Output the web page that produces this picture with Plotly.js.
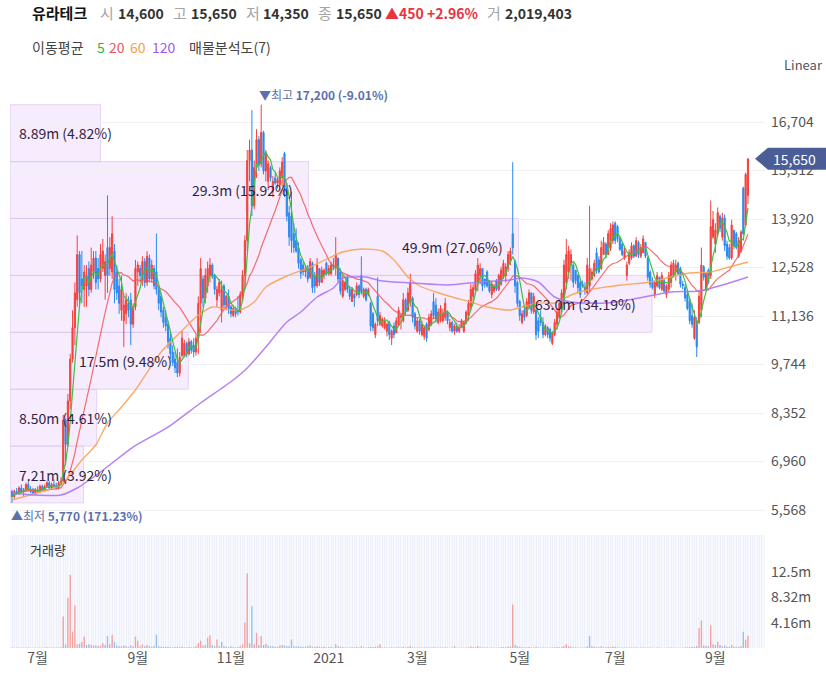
<!DOCTYPE html>
<html><head><meta charset="utf-8">
<script src="https://cdn.plot.ly/plotly-3.0.1.min.js"></script>
<style>html,body{margin:0;padding:0;background:#fff;}#chart{width:826px;height:678px;}</style>
</head><body><div id="chart"></div>
<script>
// ---------------- data ----------------
const stockName = '유라테크';
const startDate = '2020-06-16';
const holidays = ['2020-08-17','2020-09-30','2020-10-01','2020-10-02','2020-10-09','2020-12-25','2020-12-31',
  '2021-01-01','2021-02-11','2021-02-12','2021-03-01','2021-05-05','2021-05-19','2021-08-16','2021-09-20','2021-09-21','2021-09-22'];

const open = [
6100,5950,6100,6050,6200,6100,6150,6300,6150,6100,
6050,6150,6100,6250,6150,6250,6350,6200,6300,6250,
6200,6350,6400,8150,7450,8700,9900,10800,11600,12900,
12200,11900,12000,12500,11900,12400,12800,12500,12200,12500,
12300,13100,12500,12400,13000,12400,12000,11300,11000,11200,
11500,11600,10900,11400,12400,12500,12200,12700,12100,12800,
12200,12500,12400,11900,11700,11300,11100,10900,10500,10100,
9900,9800,9500,10000,10000,10350,10050,10400,10300,10100,
10500,11500,12200,11650,12000,12300,12600,12300,11600,11800,
11300,12000,11450,11700,11400,11150,11350,11300,11250,11700,
12300,13300,15600,15900,14300,15400,16200,15500,16400,15300,
15000,15400,14700,15100,14950,14900,15100,15800,14800,14100,
14000,13500,13300,13100,12750,12600,12400,12550,12250,12650,
12300,12000,12500,12100,12300,12650,12350,12350,12600,12550,
12800,12400,11700,11900,12250,11900,11550,11750,11750,12000,
12300,11700,11900,11750,11500,11200,10600,11700,10900,10850,
10800,10700,10950,10500,10850,10650,10900,11100,11000,11600,
11300,11550,11650,11200,10700,11000,10600,10550,10900,10750,
10900,11550,11450,10950,11000,11000,11100,11250,10800,10950,
10700,10850,10700,10800,10700,10950,11150,11400,11700,11900,
12100,12300,12500,12200,12400,12150,11750,11850,12150,11900,
12050,12250,12300,12500,12700,13500,12700,12100,11550,10950,
11300,11150,11400,11800,11250,11300,11000,11100,10950,10600,
10800,10750,10350,10600,10900,11100,11350,11600,12100,12400,
12600,12600,12450,12300,12100,12050,11950,11800,12000,12200,
12300,12950,12750,12500,12900,13200,12900,13100,13300,13800,
13700,13350,13200,12800,12300,12650,12800,13150,12850,13250,
12850,12950,13250,12800,12400,12150,11750,12000,12250,11900,
12150,11750,11900,12100,12300,12400,12650,12500,12050,11950,
11750,11550,11150,10500,11000,10950,11300,12550,11900,12450,
12300,13400,13200,13500,14000,13400,13950,13200,13100,12800,
13600,13500,12850,13000,14800,13750,14600];

const high = [
6150,6150,6200,6250,6300,6200,6350,6400,6250,6200,
6200,6250,6300,6300,6300,6400,6400,6350,6450,6350,
6400,6500,8300,8200,8900,10050,11300,12100,13450,13000,
13000,12600,12600,12700,13100,13000,13000,12800,13200,13350,
12900,14600,13400,14000,13200,12600,12200,12300,11700,11800,
11700,11800,11500,12750,12700,12600,12850,12800,13000,12900,
12750,12600,13500,12000,11800,11400,11300,11000,10700,10300,
10100,10200,10100,10700,10450,10400,10500,10450,10500,10600,
11700,12800,12300,12500,12700,12800,12650,12350,12000,12200,
12150,12050,11750,11900,11450,11450,11400,11700,11850,12450,
13450,15900,16200,17050,15600,16500,16300,17200,16450,15900,
15600,15450,15150,15250,15100,15400,15700,15850,14950,14300,
14700,13800,13650,13250,12800,12700,12600,12600,12800,12700,
12400,12800,12500,12550,12500,12700,12600,12700,12800,13400,
12800,12500,12300,12150,12300,12000,11950,11800,12100,12050,
12850,11950,11950,11950,11550,11250,10950,12250,11250,11100,
11100,10950,11000,10750,10950,11100,11400,11200,11800,11650,
11950,12350,11700,11250,11100,11050,11000,10850,10950,11200,
11300,11800,11650,11350,11450,11350,11650,11300,11050,11000,
10900,10950,10900,11050,11000,11300,11600,12050,12050,12450,
12800,12650,12500,12200,12450,12150,12150,12050,12200,12350,
12550,12750,12650,13000,13100,15550,12750,12150,11600,11300,
11400,11650,11900,11800,11800,11350,11100,11300,11100,10900,
10850,10800,10700,11050,11350,11600,11900,12750,13350,13150,
13050,12650,12450,12350,12200,12150,12100,12800,14300,12500,
12750,13100,12850,13300,13400,13250,13600,13800,13850,13850,
13750,13400,13250,13100,12700,13050,13250,13200,13400,13300,
13200,13450,13250,12850,12450,12250,12150,12400,12250,12400,
12200,12050,12400,12700,12750,12750,12700,12550,12150,12050,
11850,11650,11500,11300,11100,11850,13100,12600,12400,12500,
14450,14150,13800,14250,14050,14100,14050,13300,13200,13900,
13600,13550,13400,13600,14850,15250,15650];

const low = [
5770,5900,6000,6000,6050,5950,6100,6100,6050,6000,
6000,6050,6050,6100,6100,6200,6150,6150,6200,6150,
6150,6300,6350,6850,7400,8450,9800,10300,11400,11350,
11500,11400,11400,11700,11800,12200,11900,11900,12100,12400,
11600,11800,12300,12200,11500,11600,11200,11000,10250,10900,
11100,10300,10800,11300,12000,12100,12000,11950,12000,12100,
12100,11900,11750,11300,11100,10800,10700,10200,9900,9700,
9500,9380,9400,9950,9950,9950,10000,10050,9950,10000,
10050,10650,11400,11500,11800,12100,12200,11750,11400,11700,
10950,11350,11300,11200,11100,11100,11100,11150,11200,11600,
11900,13000,15000,14000,14200,15100,15300,15400,15200,15000,
14750,15000,14550,14900,14800,14750,14850,14550,13850,13150,
12950,12950,12950,12500,12200,12300,12250,12100,12200,11800,
11800,11950,12000,12100,12200,12300,12300,12300,12450,12300,
12100,11750,11650,11850,11800,11600,11550,11400,11700,11650,
11750,11650,11550,11700,10700,10700,10500,10850,10850,10800,
10750,10550,10450,10300,10500,10650,10850,10750,10950,11150,
11250,11400,10950,10750,10650,10600,10550,10450,10400,10700,
10850,11050,10950,10900,10950,10950,11000,10900,10700,10650,
10600,10650,10650,10800,10650,10900,11000,11300,11550,11850,
11850,12050,11850,11950,11950,11800,11650,11800,11850,11850,
12000,12200,12100,12400,12600,12900,11800,11400,11000,10900,
11000,11100,11350,11200,11200,10450,10500,10850,10500,10550,
10500,10400,10300,10550,10750,11050,11250,11500,11900,12200,
12150,11950,12050,11800,11650,11950,11750,11750,11850,12150,
12250,12350,12350,12450,12900,12800,12900,13000,13200,13200,
13250,13000,12850,12750,12150,12600,12750,12800,12850,12800,
12800,12950,12800,12150,11950,11900,11650,11950,11900,11850,
11800,11650,11800,11950,12250,12150,12300,11950,11900,11550,
11300,10900,10800,10450,9960,10900,11100,12150,11850,12050,
12200,13350,12950,13400,13550,13300,13000,12750,12750,12750,
13050,13050,12800,12950,13450,13700,14350];

const close = [
5950,6100,6050,6200,6100,6150,6300,6150,6100,6050,
6150,6100,6250,6150,6250,6350,6200,6300,6250,6200,
6350,6400,8150,7450,8700,9900,10800,11800,12900,11800,
12000,12400,12300,11900,12600,12800,12100,12200,12900,13000,
12700,12300,13100,13500,11900,11800,11500,11900,11450,11600,
11300,10900,11400,12500,12600,12300,12700,12100,12850,12200,
12600,12000,11900,11500,11250,10950,10850,10400,10050,9800,
9650,9500,9950,10500,10350,10050,10400,10150,10100,10500,
11500,12500,11650,12300,12500,12600,12300,11900,11900,12100,
11900,11450,11700,11350,11200,11350,11200,11250,11750,12300,
13300,15600,15900,14300,15400,16200,15500,16400,15300,15800,
15500,15100,15000,14950,15050,15300,15550,14700,14000,13400,
13300,13100,13000,12650,12350,12400,12500,12200,12700,11950,
12000,12600,12100,12450,12450,12350,12500,12600,12550,12900,
12200,11850,12150,12100,11900,11700,11900,11650,12000,11750,
11850,11900,11600,11900,10850,10800,10900,11000,11150,11050,
11000,10900,10600,10700,10600,11000,11300,11150,11600,11250,
11800,12100,11100,10850,11000,10700,10900,10800,10500,11100,
11200,11150,11050,11250,11350,11200,11500,11000,10950,10700,
10850,10700,10800,11000,10950,11250,11500,11900,11950,12350,
12600,12500,12000,12050,12000,11850,12050,12000,11900,12300,
12450,12650,12550,12900,13000,13100,12000,11500,11150,11200,
11100,11550,11800,11300,11700,10600,10700,10950,10600,10850,
10600,10500,10650,10950,11250,11500,11800,12600,12900,13000,
12900,12100,12150,11950,11750,12000,11850,12600,12500,12400,
12650,12450,12400,13100,13250,12900,13500,13650,13750,13300,
13350,13050,12900,13000,12600,12950,13150,12850,13300,12900,
13100,13350,12850,12250,12050,11950,12100,12300,11950,12300,
11850,12000,12300,12600,12650,12600,12350,12050,12000,11650,
11350,11000,10900,11100,10250,11700,12600,12250,12350,12100,
13700,13900,13600,14100,13650,13950,13150,12850,12800,13750,
13150,13100,13300,13550,13500,15200,15650];

// daily volume, millions of shares
const volumeM = [
0.08,0.06,0.07,0.09,0.05,0.06,0.10,0.07,0.05,0.06,0.08,0.05,0.07,0.06,0.09,0.11,0.07,0.06,0.08,0.07,0.09,0.12,
5.2,0.6,8.3,12.1,2.7,7.0,0.6,0.7,1.0,1.9,0.5,0.6,0.5,0.4,0.4,0.3,0.4,0.8,
0.5,2.0,0.6,2.2,1.0,0.4,0.3,0.3,0.4,0.3,0.2,0.4,0.3,1.9,1.2,0.3,0.6,0.3,0.5,0.3,
0.2,0.3,2.2,0.3,0.2,0.2,0.15,0.2,0.15,0.1,0.15,0.2,0.15,0.2,0.1,0.1,0.15,0.1,0.12,0.3,
0.8,1.2,0.4,0.5,1.7,2.1,0.5,0.3,1.4,0.3,1.0,0.3,0.2,0.15,0.3,0.15,0.1,0.15,0.3,0.6,
4.2,12.3,0.8,6.9,0.6,2.5,0.5,2.0,0.5,0.7,0.4,0.3,0.3,0.2,0.2,0.4,0.5,0.4,0.3,0.3,
1.4,0.3,0.2,0.3,0.2,0.15,0.2,0.3,0.4,0.2,0.15,0.3,0.2,0.15,0.2,0.1,0.15,0.2,0.1,0.6,
0.3,0.2,0.15,0.1,0.1,0.1,0.15,0.1,0.2,0.1,0.3,0.1,0.1,0.15,0.2,0.15,0.2,0.3,0.6,0.1,
0.1,0.08,0.1,0.12,0.08,0.1,0.15,0.08,0.2,0.1,0.15,0.35,0.12,0.1,0.08,0.1,0.08,0.07,0.1,0.12,
0.1,0.15,0.1,0.08,0.1,0.08,0.12,0.07,0.06,0.08,0.3,0.06,0.05,0.07,0.06,0.08,0.1,0.25,0.12,0.15,
0.35,0.12,0.1,0.08,0.07,0.06,0.08,0.07,0.06,0.1,0.12,0.15,0.12,0.2,0.25,7.2,0.5,0.3,0.2,0.12,
0.1,0.12,0.15,0.1,0.1,0.2,0.12,0.08,0.1,0.07,0.06,0.08,0.1,0.12,0.15,0.12,0.2,0.35,0.6,0.3,
0.2,0.12,0.1,0.1,0.08,0.07,0.07,0.3,2.0,0.3,0.2,0.15,0.12,0.3,0.15,0.12,0.2,0.15,0.25,0.15,
0.12,0.1,0.08,0.07,0.08,0.1,0.1,0.07,0.08,0.06,0.07,0.1,0.06,0.08,0.07,0.06,0.05,0.07,0.06,0.05,
0.06,0.05,0.07,0.08,0.06,0.05,0.06,0.05,0.07,0.08,0.1,0.12,0.15,0.2,0.35,3.3,4.5,0.4,0.3,0.3,
3.7,0.6,0.5,1.0,0.5,0.3,0.4,0.2,0.2,0.5,0.2,0.2,0.2,0.3,2.7,1.4,2.019403];

// 60- and 120-day moving averages (trading-day index, price)
const ma60Idx = [0,12,21,30,36,41,47,53,64,72,79,86,94,99,104,109,118,127,136,142,150,159,164,170,175,182,189,197,204,214,219,226,233,240,247,255,262,274,283,291,300,308,316];
const ma60Val = [5855,6085,6285,7003,7434,8065,8524,9012,10103,10648,11107,11394,11308,11337,11538,11968,12284,12513,12800,12973,13059,13001,12743,12255,11997,11825,11681,11538,11394,11308,11394,11509,11509,11739,11882,11968,12026,12112,12255,12370,12399,12542,12686];
const ma120Idx = [0,9,21,28,38,52,67,81,95,101,109,118,124,131,138,142,147,152,159,172,187,201,214,219,226,233,240,255,267,283,295,308,316];
const ma120Val = [6056,5999,5999,6199,6659,7376,7950,8639,9299,9643,10246,10964,11251,11681,11939,12226,12255,12255,12140,12083,12026,12112,12169,12226,12112,11681,11537,11509,11624,11825,11853,12083,12255];

// volume profile (매물분석도), bottom band first
const profileVolM = [7.21, 8.50, 17.5, 63.0, 49.9, 29.3, 8.89];
const profilePct  = [3.92, 4.61, 9.48, 34.19, 27.06, 15.92, 4.82];

const priceTicks = [5568, 6960, 8352, 9744, 11136, 12528, 13920, 15312, 16704];
const volTicksM = [4.16, 8.32, 12.5];
const maPeriods = [5, 20, 60, 120];

// ---------------- helpers ----------------
const FONT = '"Noto Sans CJK KR","Noto Sans",sans-serif';
const W = 826, H = 678, ML = 10, MR = 61, PW = W - ML - MR;
const SLOT = 2.329, X0PX = 12;             // px per trading day, px of first candle
const xmin = (ML - X0PX) / SLOT, xmax = (ML + PW - X0PX) / SLOT;
const PX_PER_WON = 388 / 11136;            // price scale calibration
const priceAtPy = py => 5568 + (510 - py) / PX_PER_WON;
const fmt = v => Math.round(v).toLocaleString('en-US');
const N = close.length;
const idx = close.map((_, i) => i);

function tradingDays(start, n, hol) {
  const hs = new Set(hol), out = [];
  const d = new Date(start + 'T00:00:00Z');
  while (out.length < n) {
    const wd = d.getUTCDay(), s = d.toISOString().slice(0, 10);
    if (wd !== 0 && wd !== 6 && !hs.has(s)) out.push(s);
    d.setUTCDate(d.getUTCDate() + 1);
  }
  return out;
}
const dates = tradingDays(startDate, N, holidays);
const tickIdx = [], tickTxt = [];
for (let i = 1; i < N; i++) {
  const m = +dates[i].slice(5, 7), pm = +dates[i - 1].slice(5, 7);
  if (m !== pm && m % 2 === 1) { tickIdx.push(i); tickTxt.push(m === 1 ? dates[i].slice(0, 4) : m + '월'); }
}

function sma(arr, n) {
  return arr.map((_, i) => { const s = Math.max(0, i - n + 1); let t = 0; for (let k = s; k <= i; k++) t += arr[k]; return t / (i - s + 1); });
}

const measure = (() => { const c = document.createElement('canvas').getContext('2d'); return (t, size, bold) => { c.font = (bold ? 'bold ' : '') + size + 'px "Noto Sans CJK KR"'; return c.measureText(t).width; }; })();

function label(px, py, text, o = {}) {
  return { xref: 'paper', yref: 'paper', x: (px - ML) / PW, y: 1 - py / H, xanchor: o.anchor || 'left', yanchor: 'middle',
    text, showarrow: false, font: { family: FONT, size: o.size || 14, color: o.color || '#333' } };
}

// ---------------- traces ----------------
const RED = '#f2423d', BLUE = '#2a88ee';
const traces = [];
traces.push({ type: 'candlestick', x: idx, open, high, low, close, xaxis: 'x', yaxis: 'y',
  increasing: { line: { color: RED, width: 1 }, fillcolor: RED },
  decreasing: { line: { color: BLUE, width: 1 }, fillcolor: BLUE },
  whiskerwidth: 0, hoverinfo: 'skip' });
traces.push({ type: 'scatter', mode: 'lines', x: idx, y: sma(close, maPeriods[1]), line: { color: 'rgba(245,85,85,0.85)', width: 1.2 }, hoverinfo: 'skip' });
traces.push({ type: 'scatter', mode: 'lines', x: ma60Idx, y: ma60Val, line: { color: 'rgba(248,163,88,0.9)', width: 1.4, shape: 'spline', smoothing: 0.7 }, hoverinfo: 'skip' });
traces.push({ type: 'scatter', mode: 'lines', x: ma120Idx, y: ma120Val, line: { color: 'rgba(172,118,245,0.9)', width: 1.5, shape: 'spline', smoothing: 0.7 }, hoverinfo: 'skip' });
traces.push({ type: 'scatter', mode: 'lines', x: idx, y: sma(close, maPeriods[0]), line: { color: '#3dbf42', width: 1.2 }, hoverinfo: 'skip' });
traces.push({ type: 'bar', x: idx, y: volumeM.map(v => v * 1e6), xaxis: 'x2', yaxis: 'y2', width: 0.6,
  marker: { color: close.map((c, i) => (i === 0 || c >= close[i - 1]) ? '#f4a0a0' : '#93c0f2'), line: { width: 0 } }, hoverinfo: 'skip' });

// ---------------- shapes & annotations ----------------
const shapes = [], annotations = [];
const volTop = 18.65e6;
shapes.push({ type: 'rect', xref: 'x2', yref: 'y2', x0: xmin, x1: xmax, y0: 0, y1: volTop, fillcolor: '#f7f9fe', line: { width: 0 }, layer: 'below' });

const pLow = Math.min(...low), pHigh = Math.max(...high);
const iLow = low.indexOf(pLow), iHigh = high.indexOf(pHigh);
const step = (pHigh - pLow) / profileVolM.length;
const maxV = Math.max(...profileVolM), bandMaxPx = 642;
profileVolM.forEach((v, i) => {
  const wpx = v / maxV * bandMaxPx;
  shapes.push({ type: 'rect', xref: 'x', yref: 'y', x0: xmin, x1: xmin + wpx / SLOT, y0: pLow + i * step, y1: pLow + (i + 1) * step,
    fillcolor: 'rgba(240,218,252,0.5)', line: { color: 'rgba(214,188,236,0.6)', width: 1 }, layer: 'below' });
  const t = (v >= 10 ? v.toFixed(1) : v.toFixed(2)) + 'm (' + profilePct[i].toFixed(2) + '%)';
  const tw = measure(t, 14);
  const rightPx = ML + wpx - 14;
  const a = { xref: 'paper', yref: 'y', y: pLow + (i + 0.5) * step, text: t, showarrow: false, yanchor: 'middle',
    font: { family: FONT, size: 14, color: '#2f1f45' } };
  if (rightPx - tw >= 17) { a.x = (rightPx - ML) / PW; a.xanchor = 'right'; } else { a.x = (17 - ML) / PW; a.xanchor = 'left'; }
  annotations.push(a);
});

// high / low markers
const last = N - 1, lastClose = close[last];
annotations.push({ xref: 'x', yref: 'y', x: iHigh, y: pHigh, xanchor: 'left', yanchor: 'bottom', xshift: -4, showarrow: false,
  text: '▼최고 <b>' + fmt(pHigh) + ' (' + ((lastClose - pHigh) / pHigh * 100).toFixed(2) + '%)</b>', font: { family: FONT, size: 12, color: '#5b70ad' } });
annotations.push({ xref: 'x', yref: 'y', x: iLow, y: pLow, xanchor: 'left', yanchor: 'top', xshift: -3, yshift: -2, showarrow: false,
  text: '▲최저 <b>' + fmt(pLow) + ' (' + ((lastClose - pLow) / pLow * 100).toFixed(2) + '%)</b>', font: { family: FONT, size: 12, color: '#5b70ad' } });

// last price tag (drawn over the axis labels, as in the original)
const tipX = (755 - ML) / PW, bodyX = (768 - ML) / PW, endX = (826 - ML) / PW, hh = 11 / PX_PER_WON;
shapes.push({ type: 'path', xref: 'paper', yref: 'y', layer: 'above',
  path: `M ${tipX},${lastClose} L ${bodyX},${lastClose + hh} L ${endX},${lastClose + hh} L ${endX},${lastClose - hh} L ${bodyX},${lastClose - hh} Z`,
  fillcolor: '#4b5d97', line: { width: 0 } });
annotations.push({ xref: 'paper', yref: 'y', x: (771 - ML) / PW, y: lastClose, xanchor: 'left', yanchor: 'middle', showarrow: false,
  text: fmt(lastClose), font: { family: FONT, size: 14, color: '#ffffff' } });

// header: laid out left to right with measured widths
const chg = close[last] - close[last - 1], chgPct = chg / close[last - 1] * 100;
const G = '#a5a5a5', D = '#333';
const headerItems = [
  { t: stockName, bold: true, size: 15, color: '#111', gap: 13 },
  { t: '시', size: 15, color: G, gap: 4 }, { t: fmt(open[last]), bold: true, size: 14, color: D, gap: 9 },
  { t: '고', size: 15, color: G, gap: 4 }, { t: fmt(high[last]), bold: true, size: 14, color: D, gap: 9 },
  { t: '저', size: 15, color: G, gap: 4 }, { t: fmt(low[last]), bold: true, size: 14, color: D, gap: 9 },
  { t: '종', size: 15, color: G, gap: 4 }, { t: fmt(close[last]), bold: true, size: 14, color: D, gap: 3 },
  { t: (chg >= 0 ? '▲' : '▼') + fmt(Math.abs(chg)) + ' ' + (chg >= 0 ? '+' : '') + chgPct.toFixed(2) + '%', bold: true, size: 14, color: '#e8343f', gap: 9 },
  { t: '거', size: 15, color: G, gap: 4 }, { t: fmt(volumeM[last] * 1e6), bold: true, size: 14, color: D, gap: 0 }
];
let hx = 30;
headerItems.forEach(it => {
  annotations.push(label(hx, 13, it.bold ? '<b>' + it.t + '</b>' : it.t, { size: it.size, color: it.color }));
  hx += measure(it.t, it.size, it.bold) + it.gap;
});

annotations.push(label(30, 47, '이동평균', { size: 14, color: '#444' }));
const maColors = ['#2fb53f', '#f0575a', '#f5a04c', '#9a5cf0'];
const maX = [95, 107, 128, 150];
maPeriods.forEach((p, i) => annotations.push(label(maX[i], 47, String(p), { size: 14, color: maColors[i] })));
annotations.push(label(187, 47, '매물분석도(' + profileVolM.length + ')', { size: 14, color: '#444' }));
annotations.push(label(825, 65, 'Linear', { size: 13, color: '#555', anchor: 'right' }));
annotations.push(label(28, 549, '거래량', { size: 13, color: '#333' }));

// ---------------- layout ----------------
const layout = {
  width: W, height: H, margin: { l: ML, r: MR, t: 0, b: 0 }, paper_bgcolor: '#fff', plot_bgcolor: '#fff',
  showlegend: false, hovermode: false, dragmode: false, font: { family: FONT },
  xaxis: { domain: [0, 1], range: [xmin, xmax], anchor: 'y', showticklabels: false, showgrid: false, zeroline: false,
    showline: false, ticks: '', rangeslider: { visible: false }, fixedrange: true },
  xaxis2: { domain: [0, 1], matches: 'x', anchor: 'y2', tickmode: 'array', tickvals: tickIdx, ticktext: tickTxt,
    tickfont: { size: 14, color: '#555' }, showgrid: false, zeroline: false, showline: false, ticks: '', fixedrange: true,
    minor: { tickmode: 'linear', tick0: 0, dtick: 1, showgrid: true, gridcolor: '#edf0f8', gridwidth: 1, ticks: '' } },
  yaxis: { domain: [1 - 530 / H, 1 - 80 / H], range: [priceAtPy(530), priceAtPy(80)], side: 'right', anchor: 'x',
    tickmode: 'array', tickvals: priceTicks, ticktext: priceTicks.map(fmt), tickfont: { size: 14, color: '#555' },
    showgrid: true, gridcolor: '#f1f1f4', gridwidth: 1, zeroline: false, showline: false, ticks: '', ticklabelstandoff: 5, fixedrange: true },
  yaxis2: { domain: [1 - 648 / H, 1 - 535 / H], range: [0, volTop], side: 'right', anchor: 'x2',
    tickmode: 'array', tickvals: volTicksM.map(v => v * 1e6), ticktext: volTicksM.map(v => v + 'm'),
    tickfont: { size: 14, color: '#555' }, showgrid: false, zeroline: false, showline: false, ticks: '', ticklabelstandoff: 5, fixedrange: true },
  shapes, annotations
};

Plotly.newPlot('chart', traces, layout, { staticPlot: true, displayModeBar: false });
</script>
</body></html>
